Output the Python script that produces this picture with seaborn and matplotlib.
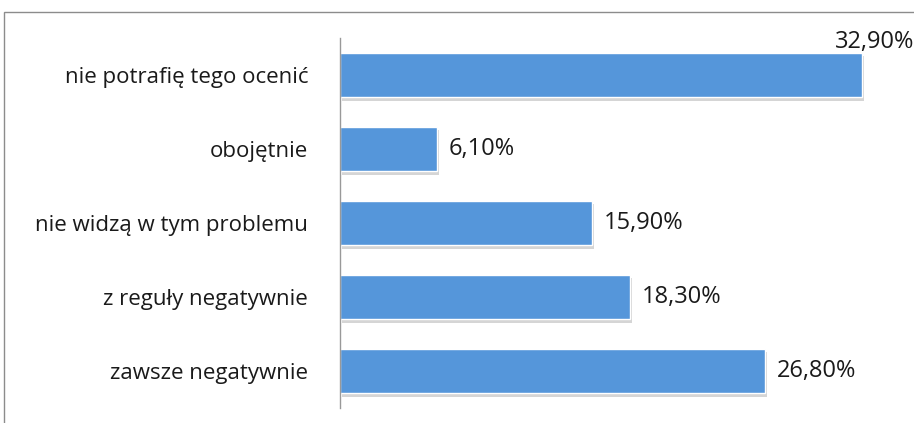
import pandas as pd
import numpy as np
import matplotlib.pyplot as plt
import matplotlib.patheffects as pe
from matplotlib.patches import Rectangle
import seaborn as sns

# --- data ---
categories = ['nie potrafię tego ocenić', 'obojętnie', 'nie widzą w tym problemu',
              'z reguły negatywnie', 'zawsze negatywnie']
values = [32.9, 6.1, 15.9, 18.3, 26.8]
labels = ['32,90%', '6,10%', '15,90%', '18,30%', '26,80%']

df = pd.DataFrame({'kategoria': categories, 'procent': values})

sns.set_style('white')
plt.rcParams['font.family'] = ['Open Sans', 'DejaVu Sans']

fig = plt.figure(figsize=(9.14, 4.23), dpi=100)
ax = fig.add_axes([340 / 914, 15 / 423, 571 / 914, 370 / 423])

sns.barplot(data=df, x='procent', y='kategoria', color='#5596DA', width=0.6,
            saturation=1, ax=ax)
for bar in ax.patches:
    bar.set_path_effects([pe.SimplePatchShadow(offset=(1.5, -2.5), shadow_rgbFace='#888888', alpha=0.35),
                          pe.Normal()])

ax.set_xlim(0, 36)
ax.set_xlabel('')
ax.set_ylabel('')
ax.set_xticks([])
ax.tick_params(axis='y', length=0, labelsize=16, pad=23, labelcolor='#1a1a1a')
for s in ['top', 'right', 'bottom']:
    ax.spines[s].set_visible(False)
ax.spines['left'].set_color('#999999')
ax.spines['left'].set_linewidth(1)

# value labels
for i, (v, lab) in enumerate(zip(values, labels)):
    if v > 30:
        ax.text(v - 1.7, i - 0.29, lab, va='bottom', ha='left', fontsize=17, color='#1a1a1a')
    else:
        ax.text(v + 0.75, i, lab, va='center', ha='left', fontsize=17, color='#1a1a1a')

# outer frame
fig.patches.append(Rectangle((4 / 914, -0.2), 1.2, (423 - 12) / 423 + 0.2,
                             transform=fig.transFigure, fill=False,
                             edgecolor='#8c8c8c', linewidth=1))

plt.savefig('out.png', dpi=100)
